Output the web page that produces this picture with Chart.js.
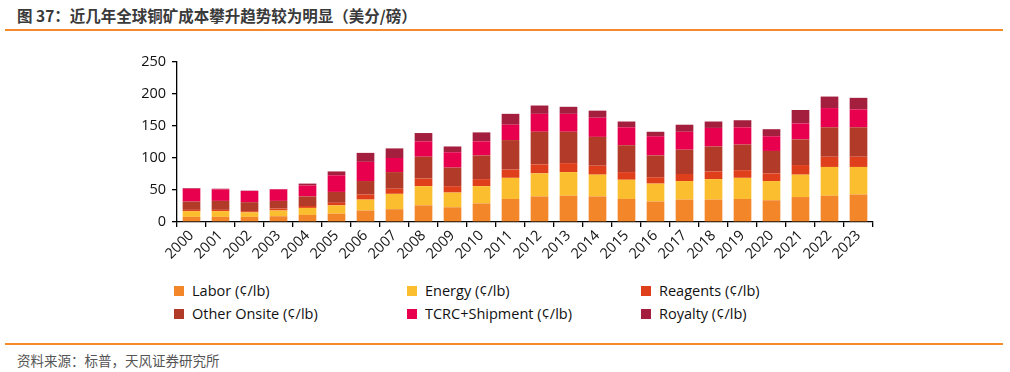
<!DOCTYPE html>
<html>
<head>
<meta charset="utf-8">
<script src="https://cdn.jsdelivr.net/npm/chart.js@4/dist/chart.umd.min.js"></script>
<style>
  html, body { margin: 0; padding: 0; background: #fff; }
  body { width: 1010px; height: 372px; position: relative; overflow: hidden; font-family: "Noto Sans CJK SC", sans-serif; }
  #title { position: absolute; left: 17px; top: 4px; font-size: 15.5px; font-weight: bold; color: #3a3a3a; white-space: nowrap; }
  .rule { position: absolute; left: 5px; width: 998px; height: 2px; background: #F58A2C; }
  #source { position: absolute; left: 17px; top: 350px; font-size: 13.5px; color: #555; white-space: nowrap; }
  #chartBox { position: absolute; left: 0; top: 0; width: 1010px; height: 272px; }
  #legend { position: absolute; left: 0; top: 280px; width: 1010px; height: 50px; font-family: "Open Sans", sans-serif; font-size: 14.5px; color: #111; }
  .item { position: absolute; white-space: nowrap; height: 20px; line-height: 20px; }
  .sw { position: absolute; left: 0; top: 5px; width: 10px; height: 10px; }
  .lbl { position: absolute; left: 18px; top: 0; }
</style>
</head>
<body>
<div id="title">图 37：近几年全球铜矿成本攀升趋势较为明显（美分/磅）</div>
<div class="rule" style="top:29px"></div>
<div id="chartBox"><canvas id="c"></canvas></div>
<div id="legend"></div>
<div class="rule" style="top:343px"></div>
<div id="source">资料来源：标普，天风证券研究所</div>
<script>
const years = ['2000','2001','2002','2003','2004','2005','2006','2007','2008','2009','2010','2011','2012','2013','2014','2015','2016','2017','2018','2019','2020','2021','2022','2023'];
const labor    = [8, 8, 8, 9, 11, 13, 18, 20, 26, 23, 29, 36, 40, 41, 40, 36, 32, 35, 35, 36, 34, 39, 41, 43];
const energy   = [9, 9, 7, 9, 11, 13, 17, 24, 30, 23, 27, 33, 36, 37, 34, 30, 28, 29, 32, 33, 30, 35, 45, 43];
const reagents = [2, 2, 2, 3, 3, 4, 8, 8, 12, 10, 11, 13, 14, 14, 14, 12, 10, 11, 12, 12, 12, 15, 16, 16];
const onsite   = [13, 14, 14, 12, 15, 17, 21, 26, 34, 29, 37, 46, 51, 49, 45, 42, 34, 38, 39, 40, 35, 40, 46, 46];
const tcrc     = [20, 18, 17.5, 18, 17, 26, 30, 22, 24, 24, 22, 24, 28, 28, 30, 28, 30, 28, 29, 27, 23, 25, 30, 28];
const royalty  = [1, 1, 0.5, 0.5, 3, 6, 14, 15, 13, 9, 14, 17, 13, 11, 11, 9, 7, 11, 10, 11, 11, 21, 18, 18];
const seriesNames = ['Labor (¢/lb)', 'Energy (¢/lb)', 'Reagents (¢/lb)', 'Other Onsite (¢/lb)', 'TCRC+Shipment (¢/lb)', 'Royalty (¢/lb)'];
const yTicks = [0, 50, 100, 150, 200, 250];

const colors = ['#F4862A', '#FBBE2E', '#E03F1C', '#B23A28', '#E8004E', '#A41E3E'];
const seriesData = [labor, energy, reagents, onsite, tcrc, royalty];

const datasets = seriesData.map((d, i) => ({
  label: seriesNames[i],
  data: d,
  backgroundColor: colors[i],
  borderWidth: 0,
  barPercentage: 0.61,
  categoryPercentage: 1.0
}));

const tickFont = { family: '"Open Sans", sans-serif', size: 14.5 };

new Chart(document.getElementById('c'), {
  type: 'bar',
  data: { labels: years, datasets },
  options: {
    responsive: true,
    maintainAspectRatio: false,
    animation: false,
    layout: { padding: { left: 100, right: 137, top: 62, bottom: 0 } },
    plugins: { legend: { display: false }, tooltip: { enabled: false } },
    scales: {
      x: {
        stacked: true,
        border: { display: true, color: '#000', width: 1.3 },
        grid: { display: true, drawOnChartArea: false, drawTicks: true, tickLength: 5, color: '#000', lineWidth: 1.3, offset: true },
        ticks: { color: '#111', font: tickFont, minRotation: 45, maxRotation: 45, padding: 0, autoSkip: false },
        afterFit: (s) => { s.height = 50; }
      },
      y: {
        stacked: true,
        min: 0, max: 250,
        afterBuildTicks: (s) => { s.ticks = yTicks.map(v => ({ value: v })); },
        border: { display: true, color: '#000', width: 1.3 },
        grid: { display: true, drawOnChartArea: false, drawTicks: true, tickLength: 5, color: '#000', lineWidth: 1.3 },
        ticks: { color: '#111', font: tickFont, padding: 6 },
        afterFit: (s) => { s.width = 77; }
      }
    }
  }
});

// legend built from series names and colours
const legend = document.getElementById('legend');
const colX = [174, 407, 641];
const rowY = [1, 24];
const order = [0, 1, 2, 3, 4, 5];
order.forEach((idx, k) => {
  const it = document.createElement('div');
  it.className = 'item';
  it.style.left = colX[k % 3] + 'px';
  it.style.top = rowY[Math.floor(k / 3)] + 'px';
  it.innerHTML = '<span class="sw" style="background:' + colors[idx] + '"></span><span class="lbl">' + seriesNames[idx] + '</span>';
  legend.appendChild(it);
});
</script>
</body>
</html>
